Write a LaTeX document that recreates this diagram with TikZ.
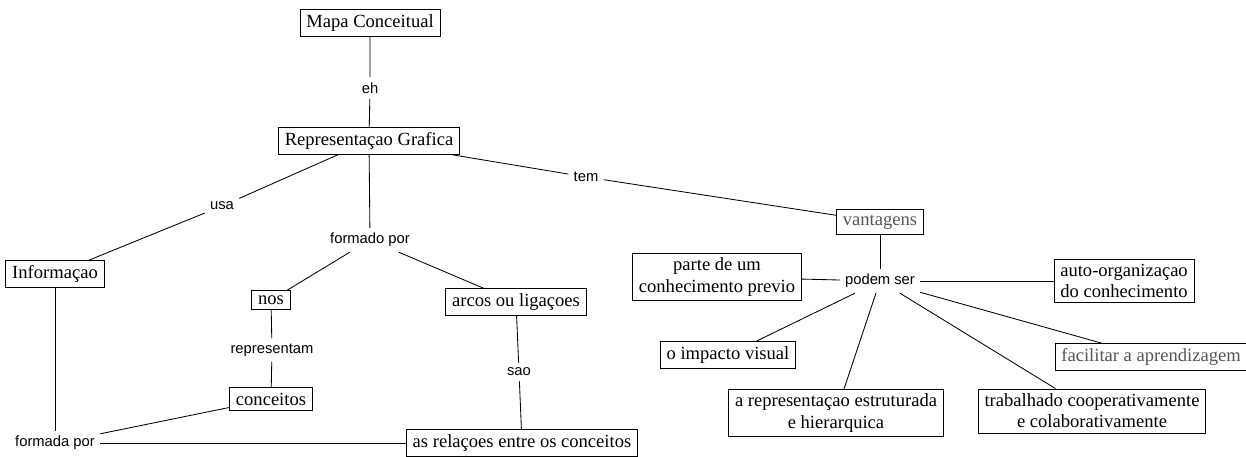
\documentclass[tikz,border=0pt]{standalone}
\usepackage{fontspec}
\setmainfont{Liberation Serif}
\setsansfont{Liberation Sans}
\usepackage{tikz}
\usetikzlibrary{positioning}
\definecolor{fadedtext}{RGB}{85,85,85}

\begin{document}
\begin{tikzpicture}[
        x=0.025cm, y=-0.025cm,
        line width=0.6pt,
        concept/.style={rectangle, draw, fill=white, inner xsep=4.5pt, inner ysep=3.5pt, align=center,
            font=\rmfamily\fontsize{13.2}{15}\selectfont},
        linkword/.style={fill=white, inner sep=3.5pt, font=\sffamily\fontsize{10.5}{12}\selectfont},
        faded/.style={text=fadedtext},
        edge/.style={draw}
    ]
        \useasboundingbox (0,0) rectangle (1246,457);

        % main spine
        \node[concept] (mapa) at (370,23) {Mapa Conceitual};
        \node[linkword] (eh) at (370,88) {eh};
        \node[concept] (rep) at (369,141) {Representaçao Grafica};

        \node[linkword] (usa) at (222,206) {usa};
        \node[linkword] (tem) at (586,177) {tem};
        \node[linkword] (formado) at (370,240) {formado por};

        % left branch
        \node[concept] (info) at (55,274) {Informaçao};
        \node[concept] (nos) at (271,300) {nos};
        \node[concept] (arcos) at (516,302) {arcos ou ligaçoes};
        \node[linkword] (repr) at (272,350) {representam};
        \node[linkword] (sao) at (519,372) {sao};
        \node[concept] (conc) at (271,399) {conceitos};
        \node[linkword] (formada) at (55,443) {formada por};
        \node[concept] (relac) at (522,443) {as relaçoes entre os conceitos};

        % right branch
        \node[concept, faded] (vant) at (880,222) {vantagens};
        \node[linkword] (podem) at (880,281) {podem ser};
        \node[concept] (parte) at (717,277) {parte de um\\conhecimento previo};
        \node[concept] (auto) at (1124,281) {auto-organizaçao\\do conhecimento};
        \node[concept] (impacto) at (728,355) {o impacto visual};
        \node[concept, faded] (facil) at (1151,357) {facilitar a aprendizagem};
        \node[concept] (estrut) at (836,413) {a representaçao estruturada\\e hierarquica};
        \node[concept] (trab) at (1092,411) {trabalhado cooperativamente\\e colaborativamente};

        \draw[edge] (mapa) -- (eh) -- (rep);
        \draw[edge] (rep) -- (usa) -- (info);
        \draw[edge] (rep) -- (tem) -- (vant);
        \draw[edge] (rep) -- (formado);
        \draw[edge] (formado) -- (nos);
        \draw[edge] (formado) -- (arcos);
        \draw[edge] (nos) -- (repr) -- (conc);
        \draw[edge] (arcos) -- (sao) -- (relac);
        \draw[edge] (info) -- (formada);
        \draw[edge] (conc) -- (formada);
        \draw[edge] (formada) -- (relac);
        \draw[edge] (vant) -- (podem);
        \foreach \dst in {parte,auto,impacto,facil,estrut,trab} {
            \draw[edge] (podem) -- (\dst);
        }
    \end{tikzpicture}
\end{document}
